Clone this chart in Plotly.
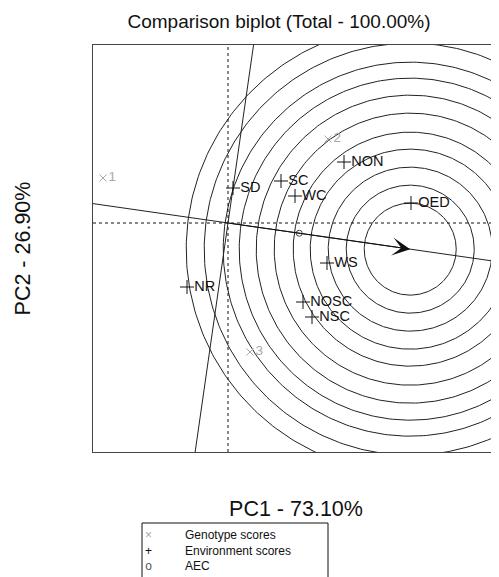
import numpy as np
import plotly.graph_objects as go

# ---- data ----
genotypes = ["1", "2", "3"]
gen_x = [-2.50, 2.00, 0.44]
gen_y = [0.90, 1.68, -2.58]

environments = ["SD", "SC", "NON", "WC", "OED", "WS", "NOSC", "NSC", "NR"]
env_x = [0.10, 1.06, 2.32, 1.34, 3.66, 1.98, 1.50, 1.68, -0.82]
env_y = [0.70, 0.84, 1.22, 0.54, 0.40, -0.80, -1.58, -1.88, -1.28]

ring_radii = [0.92, 1.28, 1.64, 2.00, 2.34, 2.72, 3.08, 3.42, 3.74, 4.12, 4.48]

x_range = [-2.70, 5.42]
y_range = [-4.58, 3.56]

title_text = "Comparison biplot (Total - 100.00%)"
x_title = "PC1 - 73.10%"
y_title = "PC2 - 26.90%"
legend_labels = ["Genotype scores", "Environment scores", "AEC"]
legend_symbols = ["×", "+", "o"]
legend_colors = ["#a8a8a8", "#111", "#555"]

FONT = "Liberation Sans, Arial, Helvetica, sans-serif"

# ---- layout geometry (figure pixels; page body adds an 8px offset) ----
W, H = 491, 569
ML, MT = 85, 37
PW, PH = 406, 407
MR, MB = W - ML - PW, H - MT - PH


def px_x(v):
    return (v - ML) / PW


def px_y(v):
    return (MT + PH - v) / PH


# ---- derived geometry ----
ex = np.array(env_x)
ey = np.array(env_y)
aec_x, aec_y = ex.mean(), ey.mean()
norm = np.hypot(aec_x, aec_y)
ux, uy = aec_x / norm, aec_y / norm
mod = np.max(np.hypot(ex, ey))
ideal_x, ideal_y = mod * ux, mod * uy

fig = go.Figure()

# concentric circles around the ideal environment
theta = np.linspace(0, 2 * np.pi, 361)
for r in ring_radii:
    fig.add_trace(go.Scatter(
        x=ideal_x + r * np.cos(theta), y=ideal_y + r * np.sin(theta),
        mode="lines", line=dict(color="#222", width=1),
        hoverinfo="skip", showlegend=False))

# average environment axis (through origin and AEC)
L = 20
fig.add_trace(go.Scatter(x=[-L * ux, L * ux], y=[-L * uy, L * uy], mode="lines",
                         line=dict(color="#222", width=1), hoverinfo="skip", showlegend=False))
# perpendicular through origin
fig.add_trace(go.Scatter(x=[L * uy, -L * uy], y=[-L * ux, L * ux], mode="lines",
                         line=dict(color="#222", width=1), hoverinfo="skip", showlegend=False))

# genotypes
fig.add_trace(go.Scatter(
    x=gen_x, y=gen_y, mode="markers+text", text=genotypes, textposition="middle right",
    textfont=dict(family=FONT, size=13.5, color="#a8a8a8"),
    marker=dict(symbol="x-thin", size=7, line=dict(color="#a8a8a8", width=1)),
    name=legend_labels[0], cliponaxis=False))

# environments
fig.add_trace(go.Scatter(
    x=env_x, y=env_y, mode="markers+text", text=environments, textposition="middle right",
    textfont=dict(family=FONT, size=14.5, color="#111"),
    marker=dict(symbol="cross-thin", size=10, line=dict(color="#111", width=1)),
    name=legend_labels[1], cliponaxis=False))

# AEC
fig.add_trace(go.Scatter(
    x=[aec_x], y=[aec_y], mode="markers",
    marker=dict(symbol="circle-open", size=6, color="#444", line=dict(width=1)),
    name=legend_labels[2]))

# arrow to ideal environment
fig.add_annotation(x=ideal_x, y=ideal_y, ax=0, ay=0, xref="x", yref="y",
                   axref="x", ayref="y", showarrow=True, arrowhead=3,
                   arrowsize=3, arrowwidth=1, arrowcolor="#111", text="")

# dotted axes through origin
fig.add_shape(type="line", x0=0, x1=0, y0=y_range[0], y1=y_range[1], xref="x", yref="y",
              line=dict(color="#111", width=1, dash="dot"))
fig.add_shape(type="line", x0=x_range[0], x1=x_range[1], y0=0, y1=0, xref="x", yref="y",
              line=dict(color="#111", width=1, dash="dot"))

# hand-drawn legend box (runs past the bottom edge like the reference)
fig.add_shape(type="rect", xref="paper", yref="paper",
              x0=px_x(134), x1=px_x(320), y0=px_y(H + 20), y1=px_y(515),
              line=dict(color="#111", width=1), fillcolor="rgba(0,0,0,0)")
sym_text = "<br>".join(f"<span style='color:{c}'>{s}</span>"
                       for s, c in zip(legend_symbols, legend_colors))
fig.add_annotation(xref="paper", yref="paper", x=px_x(140), y=px_y(519),
                   xanchor="center", yanchor="top", align="center", text=sym_text,
                   showarrow=False, borderpad=0,
                   font=dict(family=FONT, size=12, color="#111"))
fig.add_annotation(xref="paper", yref="paper", x=px_x(176), y=px_y(519),
                   xanchor="left", yanchor="top", align="left",
                   text="<br>".join(legend_labels), showarrow=False, borderpad=0,
                   font=dict(family=FONT, size=12, color="#111"))

fig.update_layout(
    width=W, height=H,
    margin=dict(l=ML, r=MR, t=MT, b=MB, autoexpand=False),
    paper_bgcolor="white", plot_bgcolor="white",
    font=dict(family=FONT, color="#111"),
    showlegend=False,
    title=dict(text=title_text, x=271 / W, xanchor="center", xref="container",
               y=1 - 13 / H, yanchor="middle", yref="container",
               font=dict(family=FONT, size=19, color="#111")),
    xaxis=dict(range=x_range, showgrid=False, zeroline=False, showticklabels=False,
               ticks="", showline=True, linecolor="#444", linewidth=1, mirror=True,
               title=dict(text=x_title, font=dict(family=FONT, size=21.5, color="#111"),
                          standoff=48)),
    yaxis=dict(range=y_range, showgrid=False, zeroline=False, showticklabels=False,
               ticks="", showline=True, linecolor="#444", linewidth=1, mirror=False,
               title=dict(text=y_title, font=dict(family=FONT, size=21.5, color="#111"),
                          standoff=55)),
)

fig.write_html("out.html")
